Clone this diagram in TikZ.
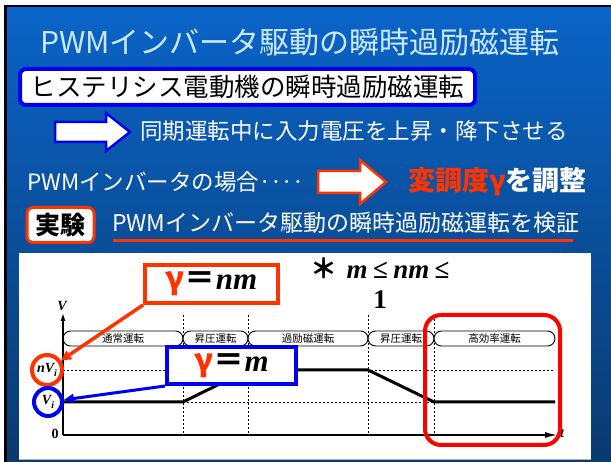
\documentclass[tikz,border=0pt]{standalone}
\usepackage{fontspec}
\setmainfont{Noto Sans CJK JP}
\newfontfamily\tms{Liberation Serif}
\newfontfamily\jpf{Noto Sans CJK JP}
\usetikzlibrary{arrows.meta}
\definecolor{slidetop}{HTML}{0A64C8}
\definecolor{slidebot}{HTML}{0A3A6E}
\definecolor{titlecol}{HTML}{CCE8FF}
\definecolor{boxblue}{HTML}{0000F0}
\definecolor{orred}{HTML}{FF3300}
\definecolor{pured}{HTML}{FF0000}
\tikzset{
  fs/.style={font=\fontsize{#1}{#1}\selectfont},
  fsb/.style={font=\fontsize{#1}{#1}\selectfont\bfseries},
  bandseg/.style={draw=black, line width=0.9pt, rounded corners=7.5pt},
  bandlbl/.style={fs=10.5, text=black, inner sep=0},
  dashline/.style={line width=0.9pt, dash pattern=on 2pt off 2pt},
  curve/.style={line width=3pt},
  callout/.style={fill=white, line width=4pt, inner sep=0, fs=31},
  circ/.style={circle, line width=4pt, inner sep=0, fill=white},
  serif/.style={font=\fontsize{#1}{#1}\selectfont\tms\bfseries},
}
\begin{document}
\begin{tikzpicture}[x=1pt,y=-1pt]
\useasboundingbox (0,0) rectangle (611,462);
\fill[white] (0,0) rectangle (611,462);
\fill[black] (4,5) rectangle (611,462);
\shade[top color=slidetop, bottom color=slidebot] (7,8) rectangle (611,462);

% title
\node[text=titlecol, fs=30, anchor=west, inner sep=0] (title) at (40,42) {PWMインバータ駆動の瞬時過励磁運転};

% box 1
\node[draw=boxblue, line width=4pt, fill=white, rounded corners=6pt, minimum width=455, minimum height=36, inner sep=0, fs=25.5, text=black] (b1) at (247.5,87) {ヒステリシス電動機の瞬時過励磁運転};

% row 2
\draw[draw=boxblue, line width=2.5pt, fill=white, line join=miter]
  (55,122) -- (106,122) -- (106,113) -- (130,132) -- (106,151) -- (106,142) -- (55,142) -- cycle;
\node[text=white, fs=22.5, anchor=west, inner sep=0] (r2) at (140,131) {同期運転中に入力電圧を上昇・降下させる};

% row 3
\node[text=white, fs=22.5, anchor=west, inner sep=0] (r3) at (27,182) {PWMインバータの場合‥‥};
\draw[draw=orred, line width=2.5pt, fill=white, line join=miter]
  (318,171) -- (360,171) -- (360,160) -- (386,182) -- (360,204) -- (360,193) -- (318,193) -- cycle;
\node[fsb=27, anchor=west, inner sep=0] (r3b) at (408,182) {\textcolor{orred}{変調度γ}\textcolor{white}{を調整}};

% row 4
\node[draw=orred, line width=3pt, fill=white, rounded corners=6pt, minimum width=67, minimum height=35, inner sep=0, fsb=25, text=black] (jk) at (60.5,225) {実験};
\node[text=white, fs=23, anchor=west, inner sep=0] (r4) at (112,223) {PWMインバータ駆動の瞬時過励磁運転を検証};
\draw[orred, line width=3pt] (113,241) -- (573,241);

% chart panel
\fill[white] (19,253) rectangle (591,459);
\fill[black!30] (19,459) rectangle (591,460.5);

% dashed lines
\foreach \x in {183,248,368,434} \draw[dashline] (\x,315) -- (\x,435);
\draw[dashline] (63,370) -- (555,370);
\draw[dashline] (183,402) -- (555,402);

% band
\draw[bandseg, fill=white] (63,331) rectangle (183,346);
\draw[bandseg, fill=white] (183,331) rectangle (248,346);
\draw[bandseg, fill=white] (248,331) rectangle (368,346);
\draw[bandseg, fill=white] (368,331) rectangle (434,346);
\draw[bandseg, fill=white] (434,331) rectangle (555,346);
\node[bandlbl] (l1) at (123,338.5) {通常運転};
\node[bandlbl] (l2) at (215.5,338.5) {昇圧運転};
\node[bandlbl] (l3) at (308,338.5) {過励磁運転};
\node[bandlbl] (l4) at (401,338.5) {昇圧運転};
\node[bandlbl] (l5) at (494.5,338.5) {高効率運転};

% axes
\coordinate (O) at (63,435);
\coordinate (ytop) at (63,313);
\coordinate (xend) at (557,435);
\draw[line width=1.2pt, -{Latex[length=8pt,width=5pt]}] (O) -- (ytop);
\draw[line width=1.2pt, -{Latex[length=12pt,width=6pt]}] (O) -- (xend);
\node[serif=14, inner sep=0] (Vl) at (62,306) {\itshape V};
\node[serif=14, inner sep=0] (tl) at (562,434) {\itshape t};
\node[serif=14, inner sep=0] (zl) at (55,434) {0};

% curve
\draw[curve] (63,402) -- (183,402) -- (248,370) -- (368,370) -- (434,402) -- (555,402);

% circles
\node[circ, draw=orred, minimum size=30] (cnv) at (47,370) {};
\node[serif=14, inner sep=0] at (cnv) {\itshape nV\raisebox{-0.25em}{\fontsize{10}{10}\selectfont i}};
\node[circ, draw=boxblue, minimum size=28] (cv) at (48,402) {};
\node[serif=14, inner sep=0] at (cv) {\itshape V\raisebox{-0.25em}{\fontsize{10}{10}\selectfont i}};

% callouts
\node[callout, draw=orred, minimum width=133, minimum height=38] (gnm) at (211.5,284) {\textcolor{orred}{\bfseries γ}\textcolor{black}{\bfseries ＝}{\tms\bfseries\itshape nm}};
\node[callout, draw=boxblue, minimum width=129, minimum height=37] (gm) at (231.5,365.5) {\textcolor{orred}{\bfseries γ}\textcolor{black}{\bfseries ＝}{\tms\bfseries\itshape m}};
\draw[orred, line width=3.5pt, -{Triangle[length=10pt,width=10pt]}] (gnm.south west) -- (cnv);
\draw[boxblue, line width=3pt, -{Triangle[length=10pt,width=9pt]}] (gm.south west) -- (cv);

% condition
\node[serif=27, inner sep=0, anchor=west] (cond) at (310,268) {{\jpf\bfseries ＊}\hspace{0.35em}\itshape m\hspace{0.2em}\upshape≤\hspace{0.2em}\itshape nm\hspace{0.2em}\upshape≤};
\node[serif=27, inner sep=0] (one) at (380,300) {1};

% highlight
\draw[pured, line width=4pt, rounded corners=16pt] (425,315) rectangle (560,445);
\end{tikzpicture}
\end{document}
